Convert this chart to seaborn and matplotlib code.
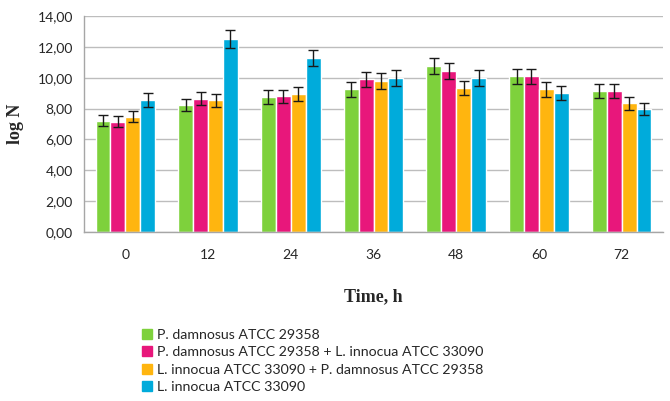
import numpy as np
import pandas as pd
import matplotlib
matplotlib.use("Agg")
import matplotlib.pyplot as plt
from matplotlib.lines import Line2D
from matplotlib.ticker import FuncFormatter, FixedLocator
import seaborn as sns

# Sampling times (h)
times = ["0", "12", "24", "36", "48", "60", "72"]

series_names = [
    "P. damnosus ATCC 29358",
    "P. damnosus ATCC 29358 + L. innocua ATCC 33090",
    "L. innocua ATCC 33090 + P. damnosus ATCC 29358",
    "L. innocua ATCC 33090",
]

# log N means per series
pd_mono = [7.21, 8.23, 8.75, 9.25, 10.74, 10.09, 9.14]
pd_mixed = [7.15, 8.64, 8.80, 9.90, 10.43, 10.09, 9.14]
li_mixed = [7.47, 8.55, 8.94, 9.79, 9.33, 9.25, 8.34]
li_mono = [8.55, 12.50, 11.28, 9.96, 9.96, 9.03, 7.97]

# Error (± log N)
pd_mono_err = [0.36, 0.41, 0.45, 0.48, 0.52, 0.50, 0.45]
pd_mixed_err = [0.36, 0.43, 0.43, 0.50, 0.53, 0.50, 0.45]
li_mixed_err = [0.37, 0.42, 0.43, 0.50, 0.45, 0.48, 0.43]
li_mono_err = [0.43, 0.60, 0.54, 0.52, 0.52, 0.45, 0.41]

colors = ["#7ED13C", "#E8177B", "#FFB50F", "#00ABDB"]

values = [pd_mono, pd_mixed, li_mixed, li_mono]
errors = [pd_mono_err, pd_mixed_err, li_mixed_err, li_mono_err]

df = pd.DataFrame({
    "time": np.tile(times, len(series_names)),
    "series": np.repeat(series_names, len(times)),
    "logN": np.concatenate(values),
    "err": np.concatenate(errors),
})

sns.set_style("white")
plt.rcParams["font.family"] = ["Lato", "DejaVu Sans"]

fig = plt.figure(figsize=(6.70, 4.01), dpi=100)
ax = fig.add_axes([84 / 670, 1 - 232 / 401, (663 - 84) / 670, (232 - 16) / 401])

sns.barplot(
    data=df, x="time", y="logN", hue="series", order=times,
    hue_order=series_names, palette=colors, width=0.72, gap=0,
    errorbar=None, saturation=1, ax=ax, legend=False,
)

# Error bars centred on each drawn bar
n = len(times)
for i, errs in enumerate(errors):
    group = ax.patches[i * n:(i + 1) * n]
    xs = [p.get_x() + p.get_width() / 2 for p in group]
    ys = [p.get_height() for p in group]
    ax.errorbar(xs, ys, yerr=errs, fmt="none", ecolor="#1a1a1a",
                elinewidth=1.0, capsize=3.5, capthick=1.0, zorder=5)

ax.set_ylim(0, 14)
ax.set_xlim(-0.5, n - 0.5)
ax.set_yticks(np.arange(0, 14.01, 2))
ax.yaxis.set_major_formatter(FuncFormatter(lambda v, _: f"{v:.2f}".replace(".", ",")))
ax.grid(axis="y", color="#BDBDBD", linewidth=1.0)
ax.set_axisbelow(True)

for side in ["top", "right"]:
    ax.spines[side].set_visible(False)
for side in ["left", "bottom"]:
    ax.spines[side].set_color("#A6A6A6")
    ax.spines[side].set_linewidth(1.0)

ax.tick_params(axis="y", which="major", length=5, width=1, color="#A6A6A6",
               labelsize=10, labelcolor="#262626", pad=3)
ax.tick_params(axis="x", which="major", length=0, labelsize=10,
               labelcolor="#262626", pad=12)
ax.xaxis.set_minor_locator(FixedLocator(np.arange(-0.5, n, 1.0)))
ax.tick_params(axis="x", which="minor", length=5, width=1, color="#A6A6A6")

ax.set_xlabel("Time, h", fontfamily="Liberation Serif", fontweight="bold",
              fontsize=13, labelpad=20)
ax.set_ylabel("log N", fontfamily="Liberation Serif", fontweight="bold",
              fontsize=13, labelpad=10)

handles = [Line2D([0], [0], marker="s", linestyle="none", markersize=6.5,
                  markerfacecolor=c, markeredgecolor=c) for c in colors]
fig.legend(handles, series_names, loc="upper left",
           bbox_to_anchor=(141 / 670, 1 - 329 / 401), frameon=False,
           fontsize=10.2, handlelength=0.8, handletextpad=0.35,
           labelspacing=0.38, borderaxespad=0, borderpad=0,
           labelcolor="#262626")

fig.savefig("out.png", dpi=100)
